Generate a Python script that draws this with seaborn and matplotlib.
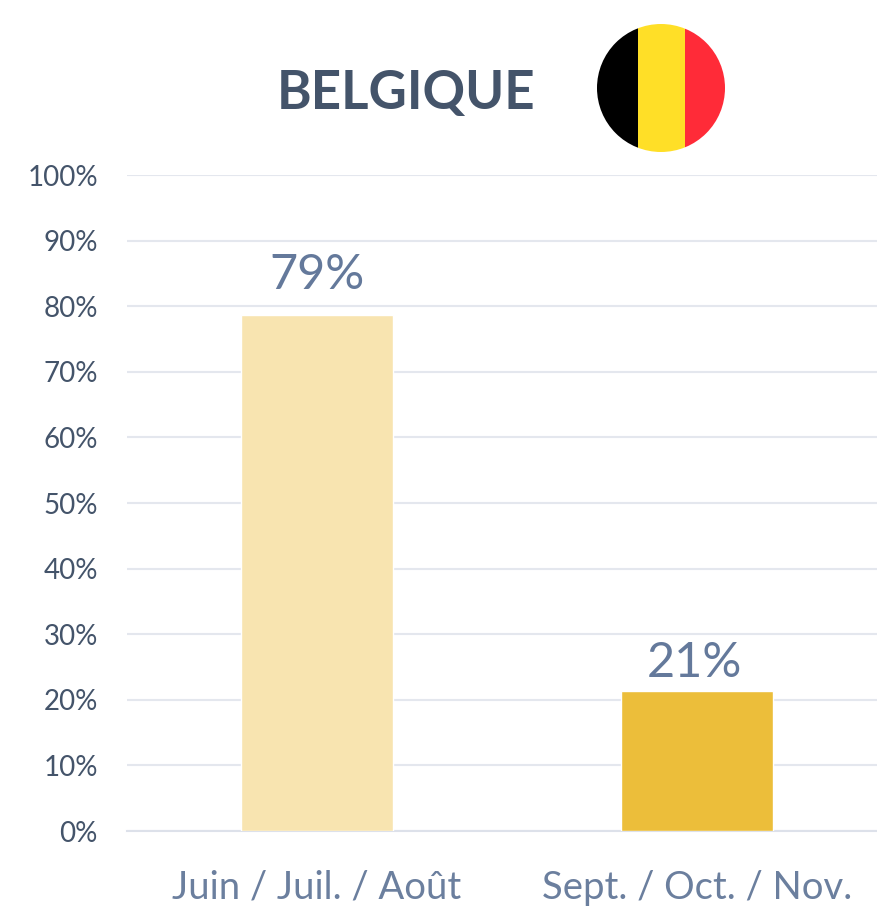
import matplotlib
matplotlib.use("Agg")
import matplotlib.pyplot as plt
import seaborn as sns
import pandas as pd
from matplotlib.patches import Circle, Rectangle

categories = ["Juin / Juil. / Août", "Sept. / Oct. / Nov."]
values = [78.6, 21.4]
labels = ["79%", "21%"]
colors = ["#F8E4B0", "#ECBE3A"]
ticks = list(range(0, 101, 10))
title = "BELGIQUE"
flag_colors = ["#000000", "#FFDF27", "#FF2B38"]

W, H = 877, 906
sns.set_theme(style="white")
plt.rcParams['font.family'] = ['Lato', 'DejaVu Sans']
fig = plt.figure(figsize=(W/100, H/100), dpi=100, facecolor="white")
ax = fig.add_axes([127/W, 1-831/H, (877-127)/W, (831-175)/H])
df = pd.DataFrame({"cat": categories, "val": values})
sns.barplot(data=df, x="cat", y="val", hue="cat", palette=colors, legend=False,
            width=0.402, saturation=1, ax=ax, zorder=3)
ax.set_xlim(-0.5, 1.4737)
ax.set_ylim(0, 100)
ax.set_yticks(ticks)
ax.set_yticklabels([f"{t}%" for t in ticks], fontsize=20, color="#44546A")
ax.tick_params(axis="y", length=0, pad=21)
ax.tick_params(axis="x", length=0, pad=28)
ax.set_xticks([0, 1])
ax.set_xticklabels(categories, fontsize=27.5, color="#6B7F9E")
ax.set_xlabel(""); ax.set_ylabel("")
ax.grid(axis="y", color="#E4E7EE", lw=1.5, zorder=0)
ax.set_axisbelow(True)
for s in ["top", "right", "left"]:
    ax.spines[s].set_visible(False)
ax.spines["bottom"].set_color("#DDE1EA")
ax.spines["bottom"].set_linewidth(1.5)
for x, v, l, dx, dy in zip([0, 1], values, labels, [0, -2], [13, 4]):
    ax.annotate(l, (x, v), xytext=(dx, dy), textcoords="offset points", ha="center",
                va="bottom", fontsize=35, color="#64799B")
fig.text(406/W, 1-94/H, title, ha="center", va="center", fontsize=38, fontweight="bold", color="#44546A")

# flag, in a pixel-coordinate overlay
ov = fig.add_axes([0, 0, 1, 1], facecolor="none")
ov.set_xlim(0, W); ov.set_ylim(H, 0); ov.axis("off")
clip = Circle((661, 88), 64, transform=ov.transData, fc="none", ec="none")
ov.add_patch(clip)
for c, x0, w in zip(flag_colors, [597, 638, 685], [41, 47, 41]):
    r = Rectangle((x0, 20), w, 140, fc=c, ec="none")
    ov.add_patch(r)
    r.set_clip_path(clip)
fig.savefig("out.png", dpi=100)
